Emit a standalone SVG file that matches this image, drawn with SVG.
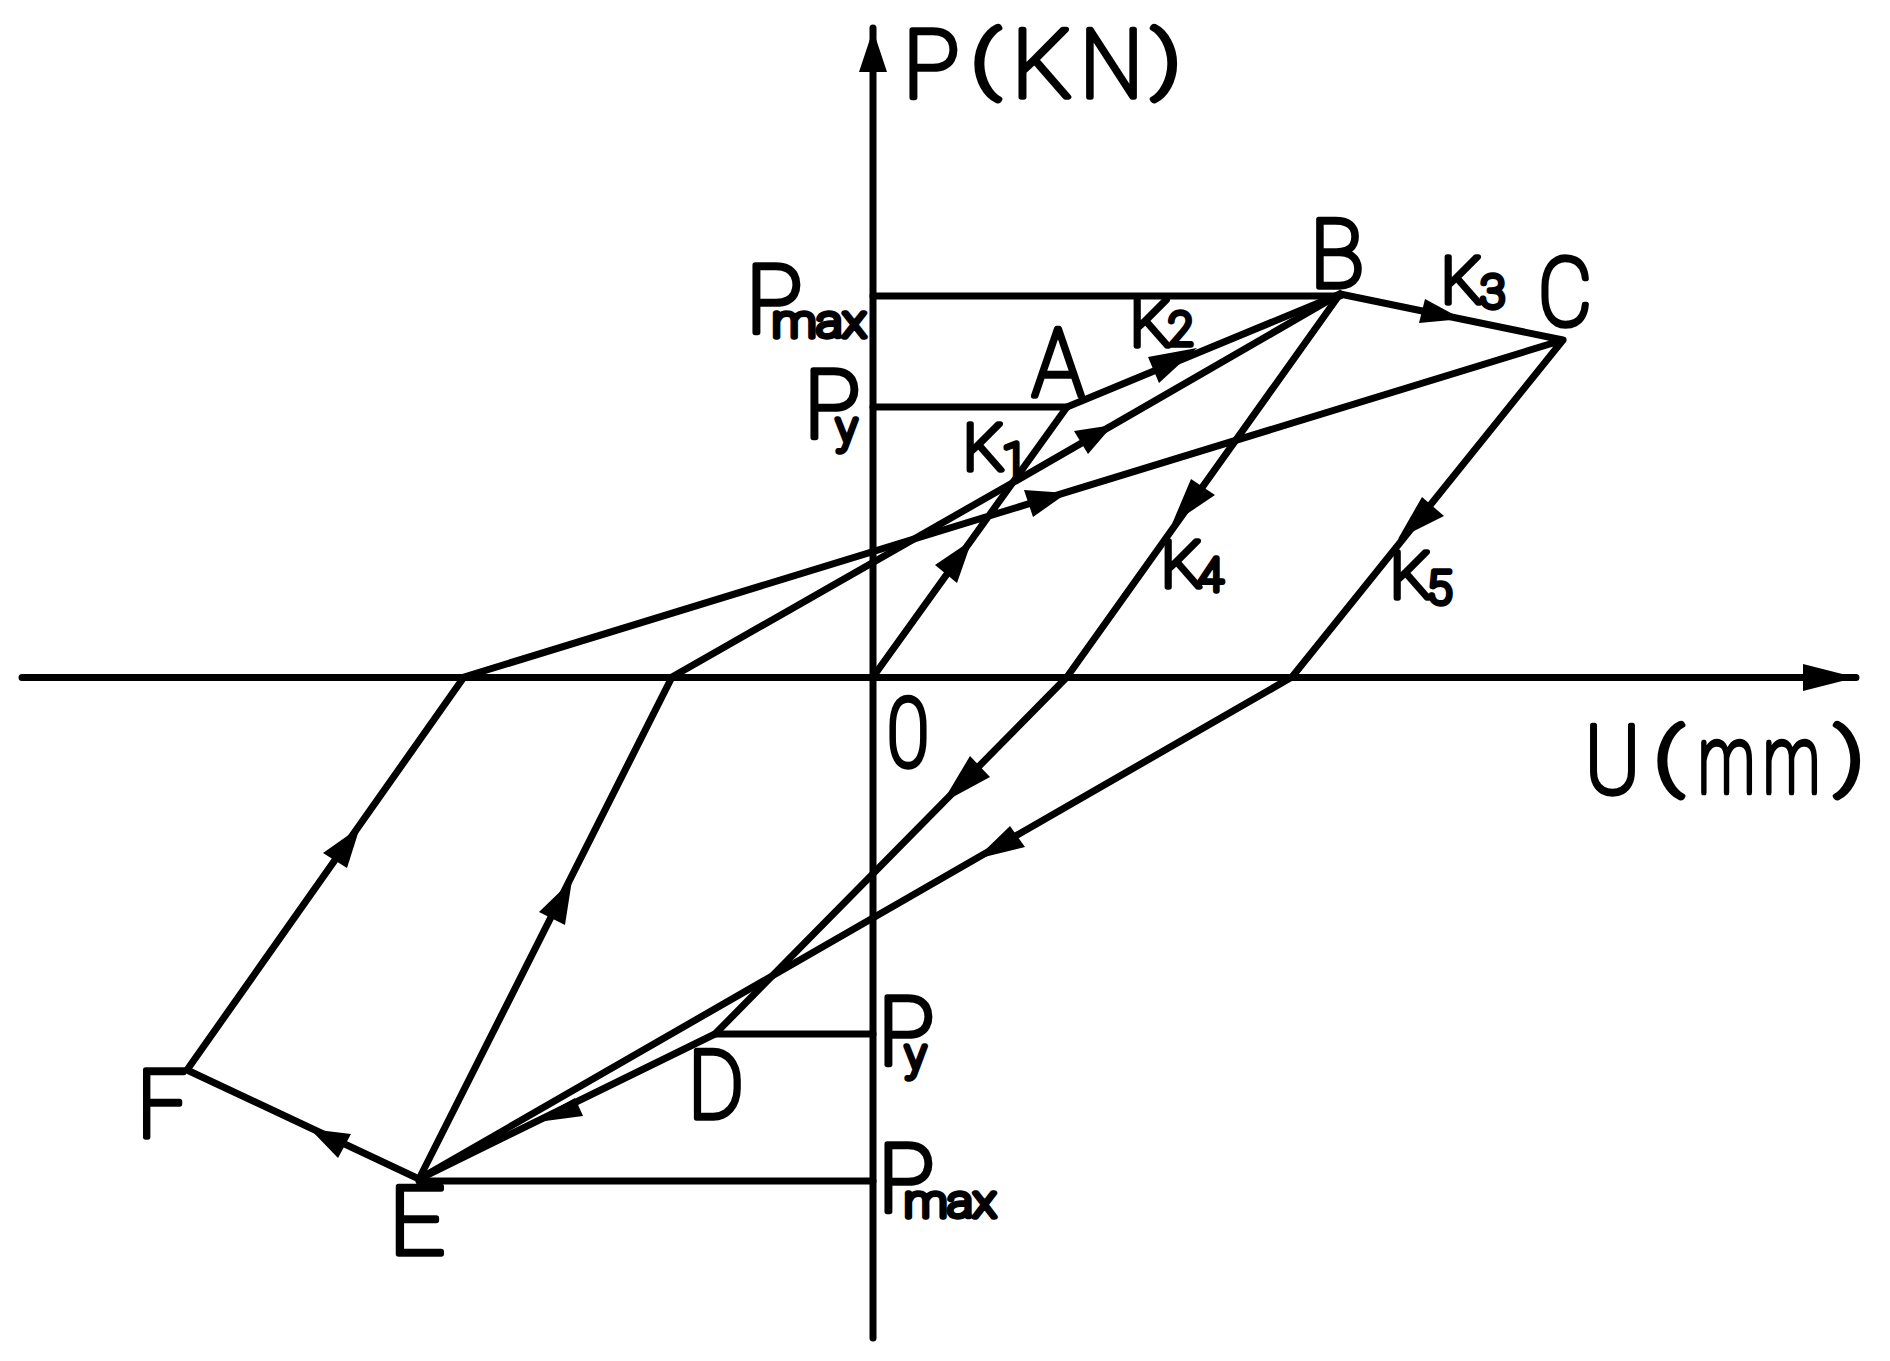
<svg xmlns="http://www.w3.org/2000/svg" width="1890" height="1361" viewBox="0 0 1890 1361">
<style>
.l{fill:none;stroke:#000;stroke-width:7;stroke-linecap:round;stroke-linejoin:round}
.h{fill:#000;stroke:none}
text{font-family:"Roboto","Liberation Sans",sans-serif;font-weight:100;fill:#000;stroke:#000;stroke-width:5.5;stroke-linejoin:round;stroke-linecap:round}
.b{font-size:94px}.m{font-size:65px}.s{font-size:44px}.p{font-size:72px}.d{font-size:46px}
</style>
<rect width="1890" height="1361" fill="#fff"/>
<g id="connectors">
<path class="l" d="M22 677.5H1856M873 28V1338"/>
<path class="l" d="M873 296H1340M873 407H1067M873 1034H715M873 1181H419"/>
<path class="l" d="M873 677L1067 407L1340 294L1563 340L1292 677L419 1179L187 1070L464 677L1563 340"/>
<path class="l" d="M1340 294L1014 482L672 677L419 1179"/>
<path class="l" d="M1340 294L1067 677L715 1034L419 1179"/>
<polygon class="h" points="873,30 859,72 887,72"/>
<polygon class="h" points="1856,677.5 1803,664 1803,691"/>
<polygon class="h" points="972,540 935,565 957,583"/>
<polygon class="h" points="1197,348 1148,357 1159,383"/>
<polygon class="h" points="1113,425 1074,431 1088,454"/>
<polygon class="h" points="1067,493 1024,490 1033,517"/>
<polygon class="h" points="1172,524 1191,479 1215,495"/>
<polygon class="h" points="1398,539 1422,497 1444,516"/>
<polygon class="h" points="1462,319 1425,299 1419,323"/>
<polygon class="h" points="942,803 970,756 990,777"/>
<polygon class="h" points="976,859 1010,826 1025,847"/>
<polygon class="h" points="530,1123 575,1098 583,1116"/>
<polygon class="h" points="310,1129 351,1134 338,1158"/>
<polygon class="h" points="360,827 323,853 347,868"/>
<polygon class="h" points="572,880 539,912 565,925"/>
</g>
<g id="axis-p"><text class="b" y="97"><tspan x="903">P</tspan><tspan class="p" x="971" y="84" textLength="29" lengthAdjust="spacingAndGlyphs">(</tspan><tspan x="1012" y="97" textLength="60" lengthAdjust="spacingAndGlyphs">K</tspan><tspan x="1080" textLength="63" lengthAdjust="spacingAndGlyphs">N</tspan><tspan class="p" x="1152" y="84" textLength="29" lengthAdjust="spacingAndGlyphs">)</tspan></text></g>
<g id="axis-u"><text class="b" y="793"><tspan x="1585" textLength="55" lengthAdjust="spacingAndGlyphs">U</tspan><tspan class="p" x="1654" y="781" textLength="29" lengthAdjust="spacingAndGlyphs">(</tspan><tspan x="1698" y="793" textLength="57" lengthAdjust="spacingAndGlyphs">m</tspan><tspan x="1763" textLength="57" lengthAdjust="spacingAndGlyphs">m</tspan><tspan class="p" x="1835" y="781" textLength="29" lengthAdjust="spacingAndGlyphs">)</tspan></text></g>
<g id="origin"><text class="b" x="887" y="766" textLength="42" lengthAdjust="spacingAndGlyphs">0</text></g>
<g id="pmax-top"><text class="b" x="746" y="332">P<tspan class="s" x="772" y="337" textLength="94" lengthAdjust="spacingAndGlyphs">max</tspan></text></g>
<g id="py-top"><text class="b" x="804" y="437">P<tspan class="s" x="836" y="443">y</tspan></text></g>
<g id="py-bottom"><text class="b" x="878" y="1064">P<tspan class="s" x="905" y="1070">y</tspan></text></g>
<g id="pmax-bottom"><text class="b" x="878" y="1211">P<tspan class="s" x="904" y="1217" textLength="92" lengthAdjust="spacingAndGlyphs">max</tspan></text></g>
<g id="node-a"><text class="b" x="1032" y="396" textLength="52" lengthAdjust="spacingAndGlyphs">A</text></g>
<g id="node-b"><text class="b" x="1310" y="287" textLength="54" lengthAdjust="spacingAndGlyphs">B</text></g>
<g id="node-c"><text class="b" x="1538" y="325" textLength="54" lengthAdjust="spacingAndGlyphs">C</text></g>
<g id="node-d"><text class="b" x="688" y="1118" textLength="56" lengthAdjust="spacingAndGlyphs">D</text></g>
<g id="node-e"><text class="b" x="389" y="1254" textLength="56" lengthAdjust="spacingAndGlyphs">E</text></g>
<g id="node-f"><text class="b" x="137" y="1137" textLength="50" lengthAdjust="spacingAndGlyphs">F</text></g>
<g id="k1"><text class="m" x="963" y="470">K<tspan class="d" x="1002" y="476">1</tspan></text></g>
<g id="k2"><text class="m" x="1130" y="346">K<tspan class="d" x="1168" y="345">2</tspan></text></g>
<g id="k3"><text class="m" x="1441" y="303">K<tspan class="d" x="1480" y="308">3</tspan></text></g>
<g id="k4"><text class="m" x="1161" y="587">K<tspan class="d" x="1198" y="591">4</tspan></text></g>
<g id="k5"><text class="m" x="1390" y="598">K<tspan class="d" x="1427" y="604">5</tspan></text></g>
</svg>
